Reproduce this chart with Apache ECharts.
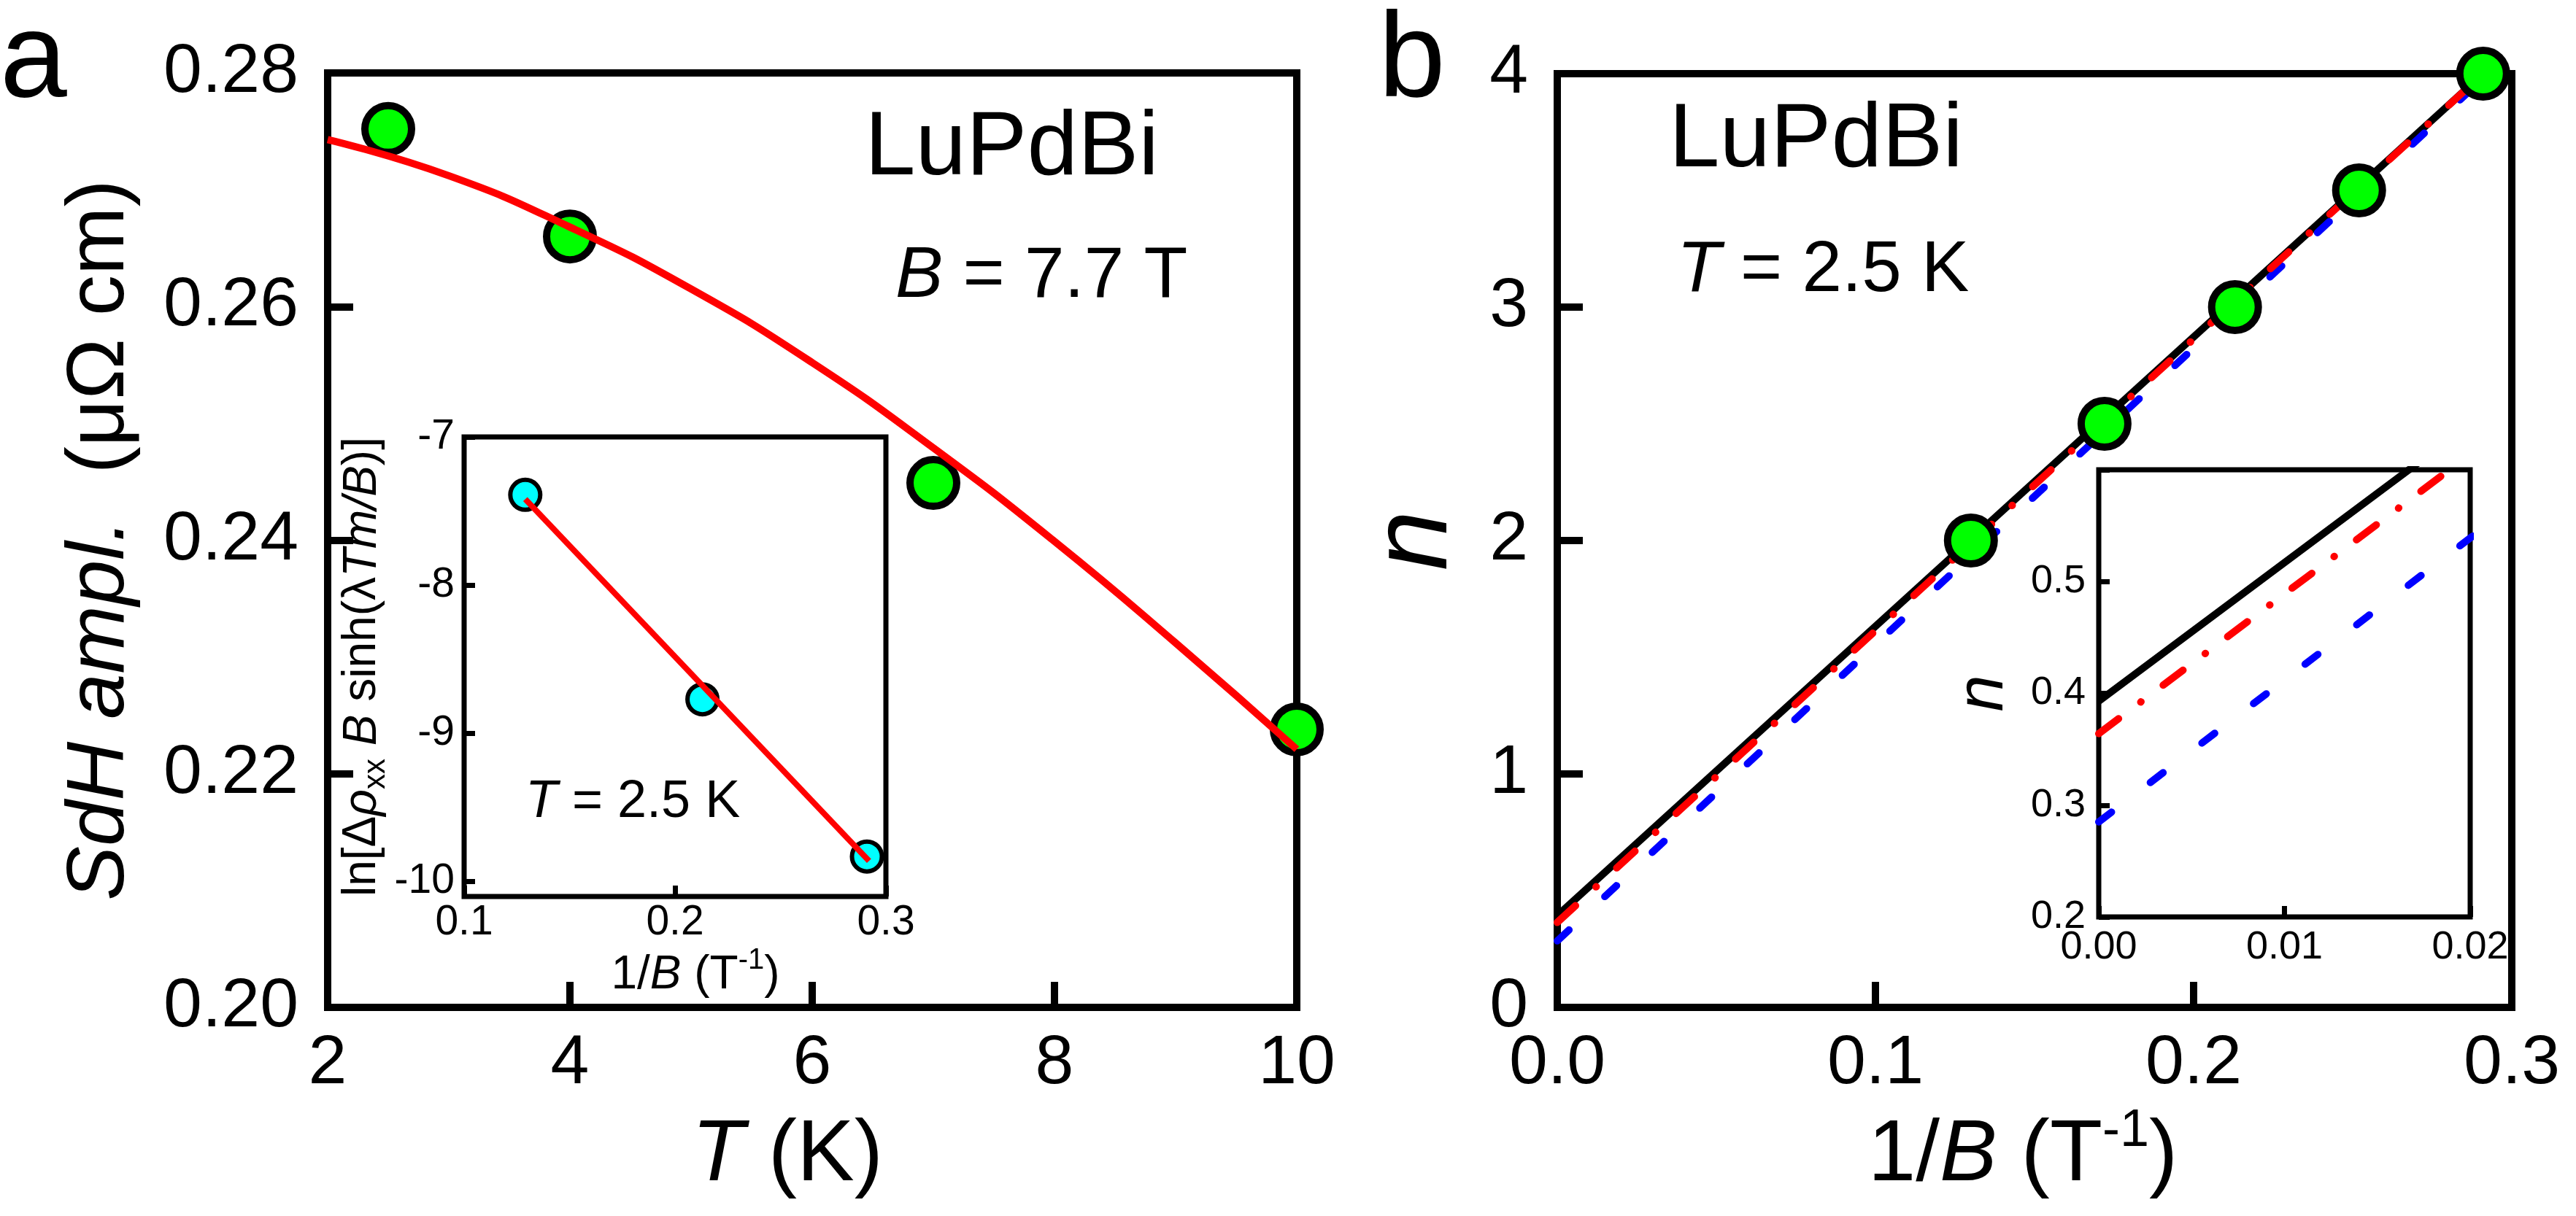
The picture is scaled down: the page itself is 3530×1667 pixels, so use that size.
<!DOCTYPE html>
<html>
<head>
<meta charset="utf-8">
<title>LuPdBi SdH</title>
<script src="https://cdn.jsdelivr.net/npm/echarts@6.0.0/dist/echarts.min.js"></script>
<style>
  html, body { margin: 0; padding: 0; background: #fff; }
  #chart { width: 3530px; height: 1667px; }
</style>
</head>
<body>
<div id="chart"></div>
<script>
// panel a: SdH amplitude vs T at B = 7.7 T
var tempK = [2.5, 4, 7, 10];
var sdhAmp = [0.2752, 0.2660, 0.2449, 0.2238];
var fitT = [2, 3, 4, 5, 6, 7, 8, 9, 10];
var fitAmp = [0.2743, 0.2712, 0.2668, 0.2615, 0.2552, 0.2479, 0.2399, 0.2312, 0.2221];

// inset a: Dingle plot
var dingleInvB = [0.129, 0.213, 0.291];
var dingleLn = [-7.39, -8.77, -9.83];
var dingleFitInvB = [0.129, 0.292];
var dingleFitLn = [-7.42, -9.86];

// panel b: Landau level index vs 1/B
var invB = [0.130, 0.172, 0.213, 0.252, 0.291];
var levelN = [2, 2.5, 3, 3.5, 4];
var fitInvB = [0, 0.291];
var blackN = [0.393, 4.0];
var redN = [0.364, 4.0];
var blueN = [0.285, 3.98];

var FONT = 'Liberation Sans, Arial, sans-serif';

function zip(xs, ys) {
    return xs.map(function (x, i) { return [x, ys[i]]; });
}

function axis(gridIndex, min, max, interval, digits, opt) {
    var a = {
        type: 'value',
        gridIndex: gridIndex,
        min: min,
        max: max,
        interval: interval,
        axisLine: { show: false },
        splitLine: { show: false },
        axisTick: { inside: true, length: opt.tickLen, lineStyle: { color: '#000', width: opt.tickWidth } },
        axisLabel: {
            color: '#000', fontFamily: FONT, fontSize: opt.fontSize, margin: opt.margin,
            formatter: function (v) { return v.toFixed(digits); }
        }
    };
    if (opt.name) {
        a.name = opt.name;
        a.nameLocation = 'middle';
        a.nameGap = opt.nameGap;
        a.nameTextStyle = opt.nameStyle;
    }
    if (opt.custom) {
        delete a.interval;
        a.axisTick.customValues = opt.custom;
        a.axisLabel.customValues = opt.custom;
    }
    if (opt.hideAbove !== undefined) {
        a.axisLabel.formatter = function (v) { return v > opt.hideAbove ? '' : v.toFixed(digits); };
    }
    return a;
}

function nameStyle(size, lineHeight, extra) {
    var s = { color: '#000', fontFamily: FONT, fontSize: size, lineHeight: lineHeight };
    for (var k in extra) s[k] = extra[k];
    return s;
}

function richTokens(size, lineHeight, supSize) {
    return {
        i: { fontStyle: 'italic', fontFamily: FONT, fontSize: size, lineHeight: lineHeight, color: '#000' },
        t: { fontFamily: FONT, fontSize: size, lineHeight: lineHeight, color: '#000' },
        sup: { fontFamily: FONT, fontSize: supSize, lineHeight: supSize, verticalAlign: 'top', color: '#000' },
        sub: { fontFamily: FONT, fontSize: supSize, lineHeight: supSize, verticalAlign: 'bottom', color: '#000' }
    };
}

function text(x, y, str, size) {
    return {
        type: 'text', x: x, y: y, z: 10,
        style: {
            text: str, fontFamily: FONT, fontSize: size, fill: '#000', verticalAlign: 'middle',
            rich: { i: { fontStyle: 'italic', fontFamily: FONT, fontSize: size, fill: '#000' } }
        }
    };
}

var mainAxis = { tickLen: 35, tickWidth: 10, fontSize: 95, margin: 30 };
var mainYAxis = { tickLen: 35, tickWidth: 10, fontSize: 95, margin: 40 };

var myChart = echarts.init(document.getElementById('chart'));

var option = {
    animation: false,
    backgroundColor: '#fff',
    grid: [
        { left: 449, top: 100, width: 1328, height: 1281, show: true, borderColor: '#000', borderWidth: 10, backgroundColor: 'transparent' },
        { left: 636, top: 599, width: 578, height: 630, show: true, borderColor: '#000', borderWidth: 7, backgroundColor: '#fff' },
        { left: 2134, top: 101, width: 1308, height: 1280, show: true, borderColor: '#000', borderWidth: 10, backgroundColor: 'transparent' },
        { left: 2876, top: 644, width: 509, height: 613, show: true, borderColor: '#000', borderWidth: 7, backgroundColor: '#fff' }
    ],
    xAxis: [
        axis(0, 2, 10, 2, 0, Object.assign({}, mainAxis, {
            name: '{i|T} (K)', nameGap: 134,
            nameStyle: nameStyle(118, 140, { padding: [0, 68, 0, 0], rich: richTokens(118, 140, 72) })
        })),
        axis(1, 0.1, 0.3, 0.1, 1, {
            tickLen: 15, tickWidth: 7, fontSize: 57, margin: 8,
            name: '1/{i|B} (T{sup|-1})', nameGap: 68,
            nameStyle: nameStyle(64, 80, { padding: [0, 0, 0, 56], rich: richTokens(64, 80, 40) })
        }),
        axis(2, 0, 0.3, 0.1, 1, Object.assign({}, mainAxis, {
            name: '1/{i|B} (T{sup|-1})', nameGap: 134,
            nameStyle: nameStyle(118, 140, { padding: [0, 32, 0, 0], rich: richTokens(118, 140, 72) })
        })),
        axis(3, 0, 0.02, 0.01, 2, { tickLen: 15, tickWidth: 7, fontSize: 54, margin: 15 })
    ],
    yAxis: [
        axis(0, 0.2, 0.28, 0.02, 2, Object.assign({}, mainYAxis, {
            name: '{i|SdH ampl.}  (μΩ cm)', nameGap: 255,
            nameStyle: nameStyle(112, 112, { rich: richTokens(112, 112, 70) })
        })),
        axis(1, -10.1, -7, 1, 0, {
            tickLen: 15, tickWidth: 7, fontSize: 57, margin: 13, custom: [-10, -9, -8, -7],
            name: '{t|ln[Δ}{i|ρ}{sub|xx}{t| }{i|B}{t| sinh(λ}{i|Tm/B}{t|)]}', nameGap: 74,
            nameStyle: nameStyle(64, 80, { rich: richTokens(64, 80, 42) })
        }),
        axis(2, 0, 4, 1, 0, Object.assign({}, mainYAxis, {
            name: 'n', nameGap: 119,
            nameStyle: nameStyle(148, 148, { fontStyle: 'italic' })
        })),
        axis(3, 0.2, 0.6, 0.1, 1, {
            tickLen: 15, tickWidth: 7, fontSize: 54, margin: 18, hideAbove: 0.55,
            name: 'n', nameGap: 112,
            nameStyle: nameStyle(90, 90, { fontStyle: 'italic' })
        })
    ],
    series: [
        {
            type: 'scatter', xAxisIndex: 0, yAxisIndex: 0, z: 2,
            data: zip(tempK, sdhAmp), symbol: 'circle', symbolSize: 64,
            itemStyle: { color: '#00ff00', borderColor: '#000', borderWidth: 10, opacity: 1 }
        },
        {
            type: 'line', xAxisIndex: 0, yAxisIndex: 0, z: 3,
            data: zip(fitT, fitAmp), smooth: true, showSymbol: false, symbol: 'none',
            lineStyle: { color: '#ff0000', width: 10 }
        },
        {
            type: 'scatter', xAxisIndex: 1, yAxisIndex: 1, z: 2,
            data: zip(dingleInvB, dingleLn), symbol: 'circle', symbolSize: 41,
            itemStyle: { color: '#00ffff', borderColor: '#000', borderWidth: 6, opacity: 1 }
        },
        {
            type: 'line', xAxisIndex: 1, yAxisIndex: 1, z: 3,
            data: zip(dingleFitInvB, dingleFitLn), symbol: 'none',
            lineStyle: { color: '#ff0000', width: 8 }
        },
        // panel b fit lines (black under the dashed ones)
        {
            type: 'line', xAxisIndex: 2, yAxisIndex: 2, z: 2, data: zip(fitInvB, blackN), symbol: 'none',
            lineStyle: { color: '#000', width: 10 }
        },
        {
            type: 'line', xAxisIndex: 2, yAxisIndex: 2, z: 2, data: zip(fitInvB, blueN), symbol: 'none',
            lineStyle: { color: '#0000ff', width: 10, type: [22, 67], cap: 'round' }
        },
        {
            type: 'line', xAxisIndex: 2, yAxisIndex: 2, z: 2, data: zip(fitInvB, redN), symbol: 'none',
            lineStyle: { color: '#ff0000', width: 10, type: [34, 38, 0.5, 38], cap: 'round' }
        },
        {
            type: 'scatter', xAxisIndex: 2, yAxisIndex: 2, z: 4,
            data: zip(invB, levelN), symbol: 'circle', symbolSize: 64,
            itemStyle: { color: '#00ff00', borderColor: '#000', borderWidth: 10, opacity: 1 }
        },
        // inset b: same lines near 1/B = 0
        {
            type: 'line', xAxisIndex: 3, yAxisIndex: 3, z: 2, data: zip(fitInvB, blackN), symbol: 'none',
            lineStyle: { color: '#000', width: 10 }
        },
        {
            type: 'line', xAxisIndex: 3, yAxisIndex: 3, z: 2, data: zip(fitInvB, blueN), symbol: 'none',
            lineStyle: { color: '#0000ff', width: 10, type: [22, 67], cap: 'round' }
        },
        {
            type: 'line', xAxisIndex: 3, yAxisIndex: 3, z: 2, data: zip(fitInvB, redN), symbol: 'none',
            lineStyle: { color: '#ff0000', width: 10, type: [34, 38, 0.5, 38], cap: 'round' }
        }
    ],
    graphic: [
        text(0, 86, 'a', 165),
        text(1889, 86, 'b', 165),
        text(1185, 205, 'LuPdBi', 125),
        text(1227, 380, '{i|B} = 7.7 T', 98),
        text(2287, 194, 'LuPdBi', 125),
        text(2298, 372, '{i|T} = 2.5 K', 98),
        text(720, 1100, '{i|T} = 2.5 K', 72)
    ]
};

myChart.setOption(option);
</script>
</body>
</html>
